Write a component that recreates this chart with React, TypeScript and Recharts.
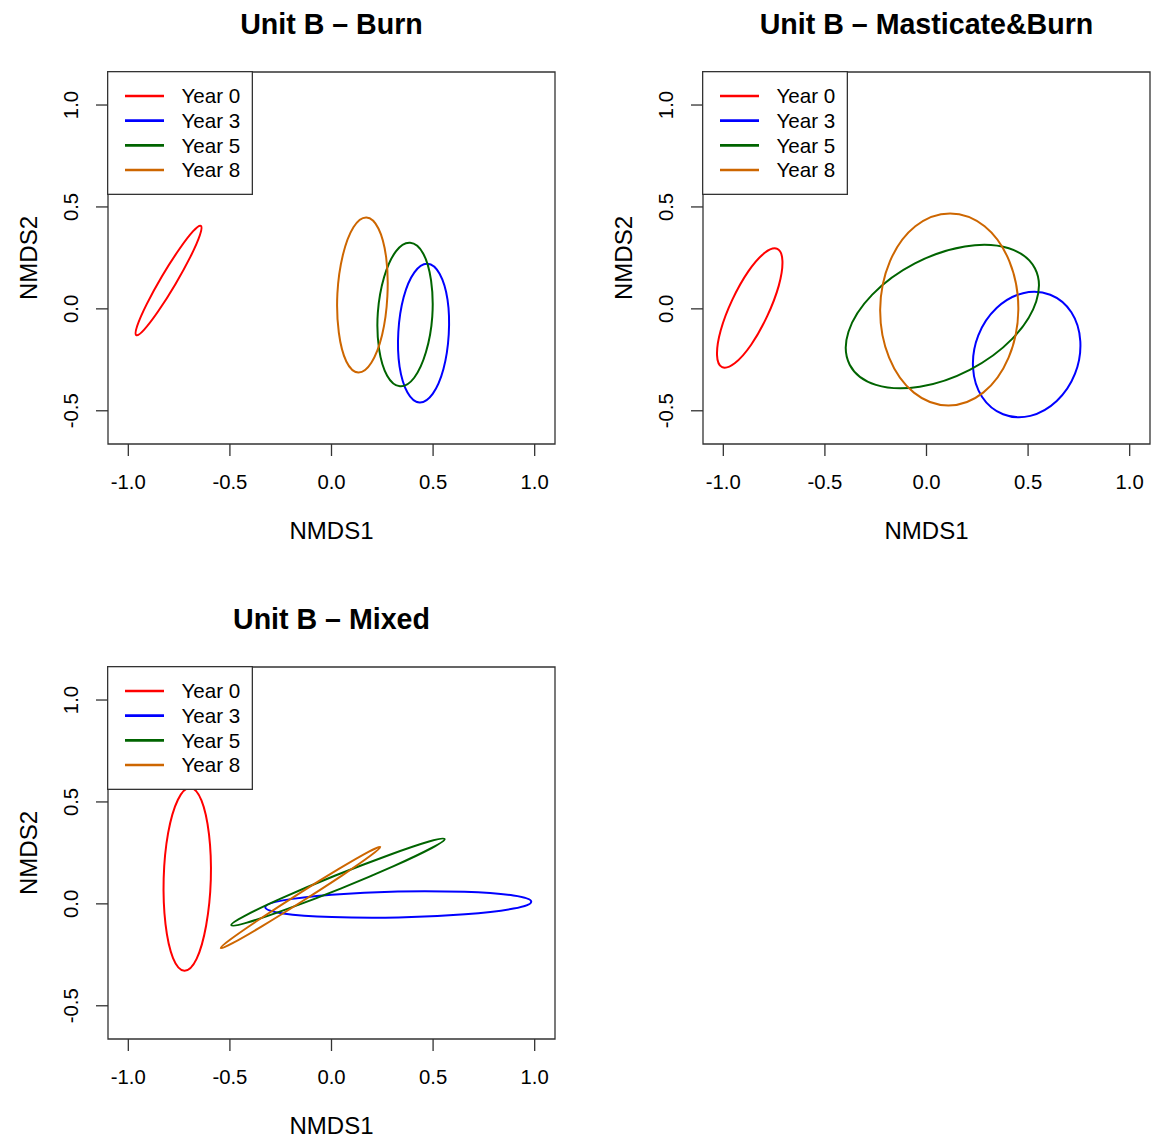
import React from 'react';
import { LineChart, Line, XAxis, YAxis, ReferenceArea, Legend, Label } from 'recharts';

const FONT = '"Liberation Sans", Arial, Helvetica, sans-serif';

const years = ['Year 0', 'Year 3', 'Year 5', 'Year 8'];
const colors = ['#FF0000', '#0000FF', '#006400', '#CD6600'];
const xTicks = [-1, -0.5, 0, 0.5, 1];
const yTicks = [-0.5, 0, 0.5, 1];

// ellipse outlines read off the figure, [NMDS1, NMDS2], 12 points around each
const burnY0 = [[-0.643, 0.407], [-0.648, 0.361], [-0.694, 0.256], [-0.769, 0.12], [-0.853, -0.012], [-0.923, -0.103], [-0.961, -0.129], [-0.956, -0.083], [-0.91, 0.022], [-0.835, 0.159], [-0.751, 0.29], [-0.681, 0.381]];
const burnY3 = [[0.473, 0.221], [0.532, 0.172], [0.571, 0.045], [0.577, -0.126], [0.551, -0.295], [0.498, -0.417], [0.433, -0.459], [0.374, -0.41], [0.335, -0.283], [0.329, -0.112], [0.355, 0.057], [0.408, 0.179]];
const burnY5 = [[0.387, 0.324], [0.451, 0.272], [0.49, 0.14], [0.496, -0.038], [0.465, -0.212], [0.407, -0.338], [0.337, -0.38], [0.274, -0.328], [0.234, -0.196], [0.228, -0.019], [0.259, 0.156], [0.317, 0.282]];
const burnY8 = [[0.172, 0.448], [0.231, 0.394], [0.269, 0.252], [0.275, 0.062], [0.249, -0.128], [0.196, -0.264], [0.132, -0.312], [0.073, -0.258], [0.036, -0.116], [0.029, 0.075], [0.056, 0.264], [0.108, 0.4]];

const mbY0 = [[-0.734, 0.294], [-0.709, 0.235], [-0.727, 0.114], [-0.784, -0.036], [-0.863, -0.176], [-0.944, -0.267], [-1.006, -0.286], [-1.031, -0.227], [-1.013, -0.106], [-0.956, 0.044], [-0.877, 0.184], [-0.796, 0.275]];
const mbY3 = [[0.609, 0.069], [0.475, 0.077], [0.345, 0.004], [0.255, -0.13], [0.229, -0.289], [0.273, -0.431], [0.377, -0.517], [0.511, -0.525], [0.641, -0.452], [0.731, -0.318], [0.757, -0.159], [0.713, -0.017]];
const mbY5 = [[0.534, 0.198], [0.405, 0.297], [0.189, 0.306], [-0.057, 0.223], [-0.267, 0.07], [-0.384, -0.112], [-0.378, -0.274], [-0.249, -0.373], [-0.033, -0.382], [0.213, -0.299], [0.423, -0.146], [0.54, 0.036]];
const mbY8 = [[0.116, 0.468], [0.286, 0.405], [0.408, 0.233], [0.452, -0.003], [0.404, -0.239], [0.279, -0.411], [0.108, -0.474], [-0.062, -0.411], [-0.184, -0.239], [-0.228, -0.003], [-0.18, 0.233], [-0.055, 0.405]];

const mixY0 = [[-0.696, 0.57], [-0.756, 0.511], [-0.804, 0.348], [-0.826, 0.125], [-0.817, -0.1], [-0.78, -0.266], [-0.724, -0.328], [-0.664, -0.27], [-0.617, -0.106], [-0.594, 0.118], [-0.603, 0.342], [-0.64, 0.508]];
const mixY3 = [[0.983, 0.011], [0.895, 0.041], [0.655, 0.059], [0.327, 0.061], [0.0, 0.045], [-0.239, 0.017], [-0.326, -0.017], [-0.238, -0.047], [0.002, -0.065], [0.33, -0.067], [0.657, -0.051], [0.896, -0.023]];
const mixY5 = [[0.557, 0.318], [0.48, 0.306], [0.284, 0.24], [0.019, 0.139], [-0.242, 0.029], [-0.429, -0.06], [-0.493, -0.104], [-0.416, -0.092], [-0.22, -0.026], [0.045, 0.075], [0.306, 0.185], [0.493, 0.274]];
const mixY8 = [[0.24, 0.279], [0.182, 0.255], [0.034, 0.17], [-0.164, 0.048], [-0.358, -0.078], [-0.498, -0.175], [-0.545, -0.217], [-0.487, -0.193], [-0.339, -0.108], [-0.142, 0.014], [0.053, 0.14], [0.193, 0.237]];

const X_DOMAIN = [-1.1, 1.1];
const Y_DOMAIN = [-0.663, 1.162];

// second derivatives of a periodic cubic spline (uniform knots)
function periodicM(v: number[]) {
  const n = v.length;
  const A = v.map((_, i) => {
    const row = new Array(n + 1).fill(0);
    row[i] += 4;
    row[(i - 1 + n) % n] += 1;
    row[(i + 1) % n] += 1;
    row[n] = 6 * (v[(i + 1) % n] - 2 * v[i] + v[(i - 1 + n) % n]);
    return row;
  });
  for (let c = 0; c < n; c++) {
    let p = c;
    for (let r = c + 1; r < n; r++) if (Math.abs(A[r][c]) > Math.abs(A[p][c])) p = r;
    [A[c], A[p]] = [A[p], A[c]];
    for (let r = 0; r < n; r++) {
      if (r === c) continue;
      const f = A[r][c] / A[c][c];
      if (!f) continue;
      for (let k = c; k <= n; k++) A[r][k] -= f * A[c][k];
    }
  }
  return A.map((row, i) => row[n] / row[i]);
}

// smooth closed curve through the traced points
function closedCurve(context: any) {
  let pts: number[][] = [];
  return {
    areaStart() {},
    areaEnd() {},
    lineStart() { pts = []; },
    point(x: number, y: number) { pts.push([+x, +y]); },
    lineEnd() {
      const n = pts.length;
      if (n < 3) return;
      const mx = periodicM(pts.map((p) => p[0]));
      const my = periodicM(pts.map((p) => p[1]));
      context.moveTo(pts[0][0], pts[0][1]);
      for (let i = 0; i < n; i++) {
        const j = (i + 1) % n;
        const dx = pts[j][0] - pts[i][0];
        const dy = pts[j][1] - pts[i][1];
        context.bezierCurveTo(
          pts[i][0] + (dx - (2 * mx[i] + mx[j]) / 6) / 3,
          pts[i][1] + (dy - (2 * my[i] + my[j]) / 6) / 3,
          pts[j][0] - (dx + (mx[i] + 2 * mx[j]) / 6) / 3,
          pts[j][1] - (dy + (my[i] + 2 * my[j]) / 6) / 3,
          pts[j][0], pts[j][1]
        );
      }
      context.closePath();
    },
  };
}

const toRows = (pts: number[][]) => pts.map(([x, y]) => ({ x, y }));

const XTick = (props: any) => (
  <text x={props.x} y={props.y + 31} textAnchor="middle" fontSize={20.3} fontFamily={FONT} fill="#000">
    {props.payload.value.toFixed(1)}
  </text>
);

const YTick = (props: any) => {
  const bx = props.x - 16;
  return (
    <text x={bx} y={props.y} transform={`rotate(-90, ${bx}, ${props.y})`} textAnchor="middle" fontSize={20.3} fontFamily={FONT} fill="#000">
      {props.payload.value.toFixed(1)}
    </text>
  );
};

const LegendBox = (props: any) => {
  const payload = props.payload || [];
  return (
    <svg width={146} height={124} style={{ display: 'block' }}>
      <rect x={0.65} y={0.65} width={144.7} height={122.7} fill="#fff" stroke="#333" strokeWidth={1.3} />
      {payload.map((p: any, i: number) => (
        <g key={p.value}>
          <line x1={18} x2={57} y1={25 + i * 24.67} y2={25 + i * 24.67} stroke={p.color} strokeWidth={2.6} />
          <text x={74.5} y={32.4 + i * 24.67} fontSize={20.6} fontFamily={FONT} fill="#000">{p.value}</text>
        </g>
      ))}
    </svg>
  );
};

function Panel({ title, left, top, series }: { title: string; left: number; top: number; series: number[][][] }) {
  return (
    <div style={{ position: 'absolute', left, top, width: 558, height: 544 }}>
      <div style={{ position: 'absolute', left: 108, top: 9.6, width: 447, textAlign: 'center', fontFamily: FONT, fontWeight: 'bold', fontSize: 28.6, lineHeight: '28.6px', color: '#000', zIndex: 2 }}>
        {title}
      </div>
      <LineChart width={558} height={544} margin={{ top: 72, right: 3, bottom: 0, left: 0 }}>
        <XAxis type="number" dataKey="x" domain={X_DOMAIN} ticks={xTicks} allowDataOverflow axisLine={false}
          tickSize={12} tickLine={{ stroke: '#333', strokeWidth: 1.3 }} height={100} tick={<XTick />}>
          <Label content={(p: any) => (
            <text x={p.viewBox.x + p.viewBox.width / 2} y={p.viewBox.y + 94.6} textAnchor="middle" fontSize={24} fontFamily={FONT} fill="#000">NMDS1</text>
          )} />
        </XAxis>
        <YAxis type="number" dataKey="y" domain={Y_DOMAIN} ticks={yTicks} allowDataOverflow axisLine={false}
          tickSize={12} tickLine={{ stroke: '#333', strokeWidth: 1.3 }} width={108} tick={<YTick />}>
          <Label content={(p: any) => {
            const cx = p.viewBox.x + 36.7;
            const cy = p.viewBox.y + p.viewBox.height / 2;
            return (
              <text x={cx} y={cy} transform={`rotate(-90, ${cx}, ${cy})`} textAnchor="middle" fontSize={24} fontFamily={FONT} fill="#000">NMDS2</text>
            );
          }} />
        </YAxis>
        <ReferenceArea x1={X_DOMAIN[0]} x2={X_DOMAIN[1]} y1={Y_DOMAIN[0]} y2={Y_DOMAIN[1]} fill="none" fillOpacity={0} stroke="#333" strokeWidth={1.3} />
        {series.map((pts, i) => (
          <Line key={years[i]} name={years[i]} data={toRows(pts)} dataKey="y" type={closedCurve as any}
            stroke={colors[i]} strokeWidth={2} dot={false} activeDot={false} isAnimationActive={false} legendType="line" />
        ))}
        <Legend layout="vertical" align="center" verticalAlign="middle" content={<LegendBox />}
          wrapperStyle={{ left: 107, top: 71, width: 146, height: 124 }} />
      </LineChart>
    </div>
  );
}

export default function App() {
  return (
    <div style={{ position: 'absolute', left: 0, top: 0, width: 1153, height: 1139, background: '#fff' }}>
      <Panel title="Unit B – Burn" left={0} top={0} series={[burnY0, burnY3, burnY5, burnY8]} />
      <Panel title="Unit B – Masticate&Burn" left={595} top={0} series={[mbY0, mbY3, mbY5, mbY8]} />
      <Panel title="Unit B – Mixed" left={0} top={595} series={[mixY0, mixY3, mixY5, mixY8]} />
    </div>
  );
}
